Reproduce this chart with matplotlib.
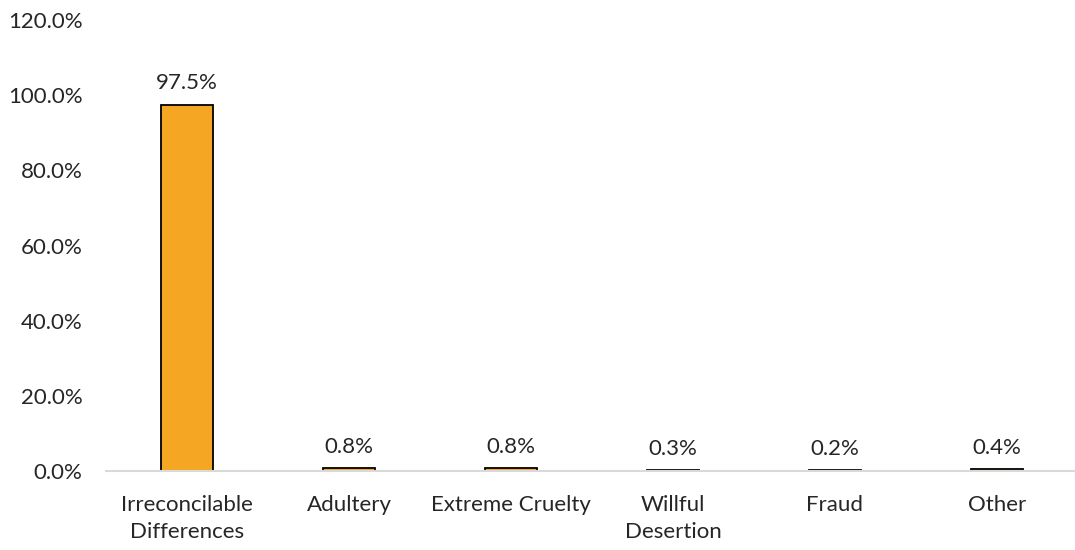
import numpy as np
import matplotlib.pyplot as plt
from matplotlib.ticker import FuncFormatter

categories = ['Irreconcilable\nDifferences', 'Adultery', 'Extreme Cruelty',
              'Willful\nDesertion', 'Fraud', 'Other']
shares = [97.5, 0.8, 0.8, 0.3, 0.2, 0.4]
value_labels = ['97.5%', '0.8%', '0.8%', '0.3%', '0.2%', '0.4%']

plt.rcParams['font.family'] = ['Lato', 'DejaVu Sans']

fig = plt.figure(figsize=(10.75, 5.5), dpi=100)
# axes placed by hand to match the reference layout
ax = fig.add_axes([106 / 1075, 79 / 550, 972 / 1075, 451 / 550])

x = np.arange(len(categories))
bars = ax.bar(x, shares, width=0.32, color='#F5A623', edgecolor='black', linewidth=1.3)

# value labels above each bar
for rect, lab in zip(bars, value_labels):
    ax.annotate(lab, (rect.get_x() + rect.get_width() / 2, rect.get_height()),
                xytext=(0, 8), textcoords='offset points', ha='center', va='bottom',
                fontsize=16, color='#262626')

ax.set_xlim(-0.5, len(categories) - 0.5)
ax.set_ylim(0, 120)
ax.set_yticks(np.arange(0, 121, 20))
ax.yaxis.set_major_formatter(FuncFormatter(lambda v, p: f'{v:.1f}%'))
ax.set_xticks(x)
ax.set_xticklabels(categories, linespacing=1.45)

for s in ['top', 'right', 'left']:
    ax.spines[s].set_visible(False)
ax.spines['bottom'].set_color('#d9d9d9')
ax.spines['bottom'].set_linewidth(1.5)
ax.tick_params(axis='both', length=0, labelsize=16, colors='#262626')
ax.tick_params(axis='y', pad=17)
ax.tick_params(axis='x', pad=17)

plt.savefig('out.png', dpi=100)
